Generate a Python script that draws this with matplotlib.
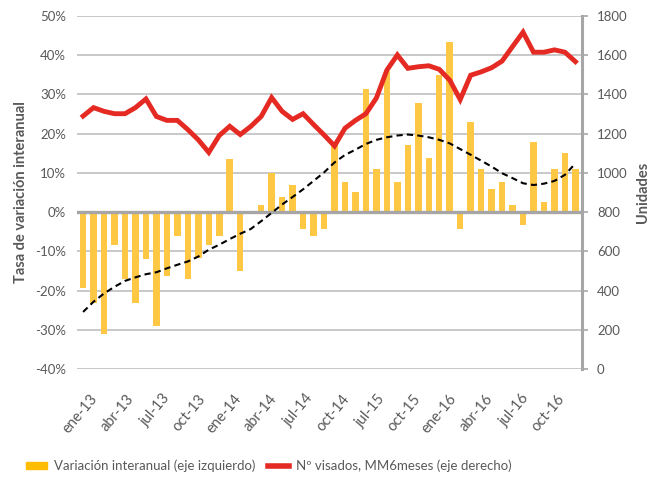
import numpy as np
import matplotlib
matplotlib.use('Agg')
import matplotlib.pyplot as plt
from matplotlib.patches import Patch
from matplotlib.lines import Line2D

plt.rcParams['font.family'] = ['Lato', 'DejaVu Sans']

# Variación interanual (%), ene-13 .. dic-16
variacion = [-19.3, -23.0, -31.0, -8.3, -17.0, -23.0, -11.9, -29.0, -16.2, -6.0,
             -17.0, -11.7, -8.3, -6.0, 13.6, -15.1, 0.0, 1.7, 9.9, 3.9,
             6.8, -4.2, -6.0, -4.2, 17.5, 7.7, 5.0, 31.3, 10.9, 36.0,
             7.7, 17.0, 27.9, 13.7, 34.9, 43.3, -4.2, 22.9, 10.9, 5.9,
             7.7, 1.7, -3.2, 17.9, 2.7, 10.9, 15.0, 10.9]

# Nº visados, media móvil 6 meses (eje derecho)
visados = [1289, 1332, 1313, 1301, 1301, 1332, 1376, 1287, 1267, 1267,
           1220, 1168, 1104, 1190, 1237, 1195, 1236, 1287, 1383, 1313,
           1272, 1301, 1246, 1193, 1137, 1227, 1267, 1301, 1381, 1523,
           1600, 1532, 1540, 1545, 1527, 1472, 1373, 1497, 1514, 1535,
           1569, 1643, 1716, 1614, 1614, 1626, 1614, 1566]

# tendencia (línea discontinua, eje derecho)
tendencia = [292, 344, 386, 420, 450, 468, 484, 494, 514, 532,
             549, 574, 609, 634, 663, 690, 714, 754, 796, 839,
             877, 916, 959, 1002, 1053, 1091, 1118, 1147, 1168, 1181,
             1190, 1195, 1190, 1181, 1168, 1150, 1121, 1092, 1062, 1032,
             998, 973, 947, 938, 945, 959, 990, 1048]

etiquetas = ['ene-13', 'abr-13', 'jul-13', 'oct-13', 'ene-14', 'abr-14', 'jul-14',
             'oct-14', 'jul-15', 'oct-15', 'ene-16', 'abr-16', 'jul-16', 'oct-16']

gris = '#595959'
x = np.arange(len(variacion))

fig = plt.figure(figsize=(6.52, 4.78), dpi=100)
ax = fig.add_axes([0.1186, 0.2274, 0.7736, 0.7398])

ax.bar(x, variacion, width=0.62, color='#FFC844', zorder=2)
ax.set_ylim(-40, 50)
ax.set_xlim(-0.55, 47.6)
ax.set_yticks(range(-40, 51, 10))
ax.set_yticklabels(['%d%%' % v for v in range(-40, 51, 10)])
ax.grid(axis='y', color='#BFBFBF', lw=1.2, zorder=0)
ax.axhline(0, color='#A6A6A6', lw=2.4, zorder=3)
for s in ax.spines.values():
    s.set_visible(False)
ax.tick_params(axis='y', length=0, pad=8, labelsize=9.5, labelcolor=gris)
# las etiquetas del eje x no caen sobre los meses exactos en el original
ax.set_xticks(np.linspace(0.64, 45.2, len(etiquetas)))
ax.set_xticklabels(etiquetas, rotation=50, ha='right', rotation_mode='anchor')
ax.tick_params(axis='x', length=0, pad=16, labelsize=10.5, labelcolor=gris)
ax.set_ylabel('Tasa de variación interanual', fontsize=10.5, fontweight='bold',
              color=gris, labelpad=5)

ax2 = ax.twinx()
ax2.plot(x, tendencia, color='black', lw=1.5, dashes=(3, 2), zorder=4)
ax2.plot(x, visados, color='#E42A22', lw=3.5, zorder=5, solid_joinstyle='miter')
ax2.set_ylim(0, 1800)
ax2.set_yticks(range(0, 1801, 200))
for k, s in ax2.spines.items():
    s.set_visible(k == 'right')
ax2.spines['right'].set_color('#A6A6A6')
ax2.spines['right'].set_linewidth(2.2)
ax2.tick_params(axis='y', length=4, width=1.2, color='#A6A6A6', pad=7,
                labelsize=9.5, labelcolor=gris)
ax2.set_ylabel('Unidades', fontsize=10.5, fontweight='bold', color=gris, labelpad=6)

handles = [Patch(color='#FFBC00'),
           Line2D([], [], color='#E42A22', lw=4)]
fig.legend(handles, ['Variación interanual (eje izquierdo)',
                     'Nº visados, MM6meses (eje derecho)'],
           loc='center left', bbox_to_anchor=(14 / 652, 1 - 466 / 478), ncol=2,
           frameon=False, fontsize=9.5, labelcolor=gris, handlelength=1.6,
           handleheight=0.5, handletextpad=0.5, columnspacing=1.0)

fig.savefig('out.png', dpi=100)
